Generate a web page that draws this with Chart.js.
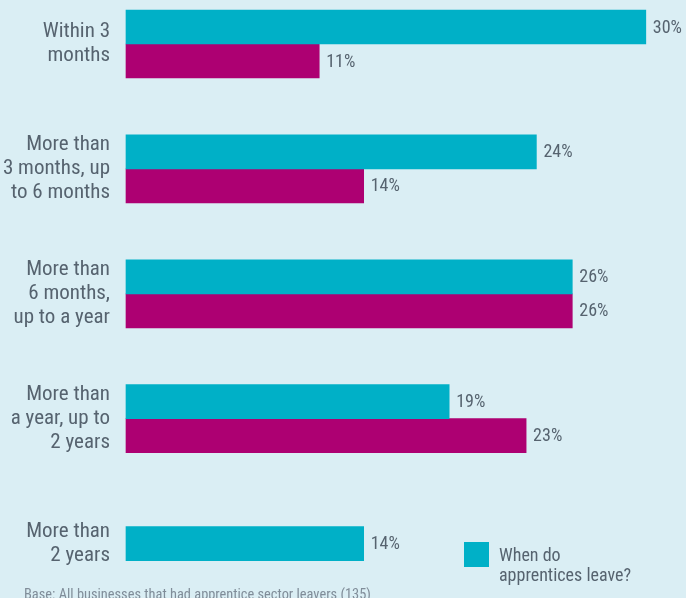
<!DOCTYPE html>
<html>
<head>
<meta charset="utf-8">
<script src="https://cdn.jsdelivr.net/npm/chart.js@4"></script>
<style>
  html, body { margin: 0; padding: 0; background: #daeef4; }
  #wrap { position: relative; width: 686px; height: 598px; overflow: hidden; }
  #legend { position: absolute; left: 464px; top: 542px; font: 18px 'Roboto Condensed', 'Liberation Sans Narrow', 'DejaVu Sans Condensed', Roboto, sans-serif; color: #56636f; line-height: 20px; }
  #legend .box { position: absolute; left: 0; top: 0; width: 25px; height: 25px; }
  #legend .txt { position: absolute; left: 35px; top: 3px; width: 200px; }
  #base { position: absolute; left: 24px; top: 586px; font: 14.4px 'Roboto Condensed', 'Liberation Sans Narrow', 'DejaVu Sans Condensed', Roboto, sans-serif; color: #808d99; white-space: nowrap; }
</style>
</head>
<body>
<div id="wrap">
  <canvas id="leaveChart" width="686" height="598"></canvas>
  <div id="legend"></div>
  <div id="base">Base: All businesses that had apprentice sector leavers (135)</div>
</div>
<script>
const FONT = "'Roboto Condensed', 'Liberation Sans Narrow', 'DejaVu Sans Condensed', Roboto, sans-serif";

// periods (y categories)
const periods = [
  ['Within 3', 'months'],
  ['More than', '3 months, up', 'to 6 months'],
  ['More than', '6 months,', 'up to a year'],
  ['More than', 'a year, up to', '2 years'],
  ['More than', '2 years']
];
// share of leavers, %
const leaveShare = [30.4, 24.0, 26.1, 18.9, 13.9];
const secondShare = [11.3, 13.9, 26.1, 23.4, null];

const seriesName = 'When do apprentices leave?';

// value labels at the bar ends
const barLabels = {
  id: 'barLabels',
  afterDatasetsDraw(chart) {
    const ctx = chart.ctx;
    ctx.save();
    ctx.font = '18px ' + FONT;
    ctx.fillStyle = '#56636f';
    ctx.textBaseline = 'middle';
    ctx.textAlign = 'left';
    chart.data.datasets.forEach((ds, i) => {
      chart.getDatasetMeta(i).data.forEach((bar, j) => {
        const v = ds.data[j];
        if (v == null) return;
        ctx.fillText(Math.round(v) + '%', bar.x + 7, bar.y + 1);
      });
    });
    ctx.restore();
  }
};

const chart = new Chart(document.getElementById('leaveChart'), {
  type: 'bar',
  data: {
    labels: periods,
    datasets: [{
      label: seriesName,
      data: leaveShare,
      backgroundColor: '#00b0c7',
      barThickness: 34,
      clip: false
    }, {
      label: '',
      data: secondShare,
      backgroundColor: '#ad0072',
      barThickness: 34,
      clip: false
    }]
  },
  options: {
    indexAxis: 'y',
    responsive: false,
    animation: false,
    skipNull: true,
    layout: { padding: { top: 44, bottom: 54.4, left: 0, right: 0 } },
    scales: {
      x: {
        display: false,
        min: 0,
        max: 32.75
      },
      y: {
        offset: false,
        grid: { display: false, drawTicks: false },
        border: { display: false },
        ticks: {
          color: '#56636f',
          padding: 16,
          font: { family: FONT, size: 21, lineHeight: 1.143 }
        },
        afterFit(scale) { scale.width = 126; }
      }
    },
    plugins: {
      legend: { display: false },
      tooltip: { enabled: false }
    }
  },
  plugins: [barLabels]
});

// html legend for the first series
const lg = document.getElementById('legend');
lg.innerHTML = '<div class="box" style="background:' + chart.data.datasets[0].backgroundColor + '"></div>' +
  '<div class="txt">When do<br>apprentices leave?</div>';
</script>
</body>
</html>
